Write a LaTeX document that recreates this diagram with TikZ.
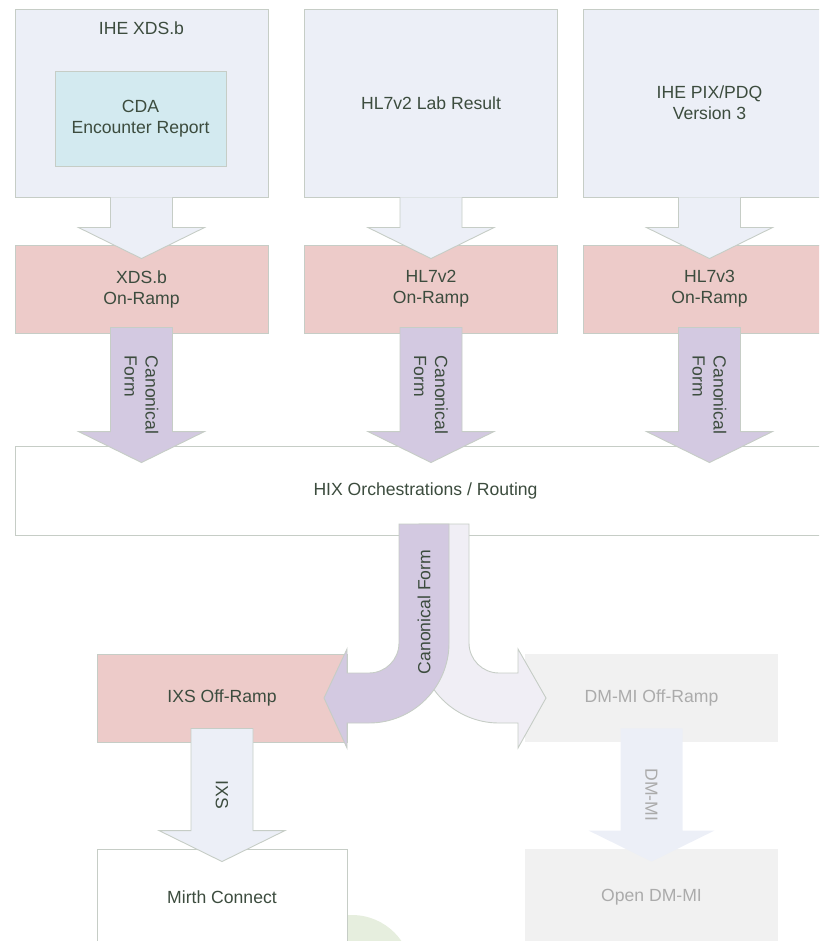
\documentclass[tikz,border=0pt]{standalone}
\usepackage{fontspec}
\setmainfont{Liberation Sans}
\usetikzlibrary{calc}

\definecolor{srcfill}{HTML}{ECEFF7}
\definecolor{cdafill}{HTML}{D3EAF0}
\definecolor{rampfill}{HTML}{EDCBC9}
\definecolor{canfill}{HTML}{D3C9E1}
\definecolor{splitfill}{HTML}{F0EEF5}
\definecolor{fadefill}{HTML}{F1F1F1}
\definecolor{boxline}{HTML}{C6CDC6}
\definecolor{txt}{HTML}{3C4C3E}
\definecolor{fadetxt}{HTML}{ABABAB}
\definecolor{logo}{HTML}{E6EEDE}

\tikzset{
 box/.style={draw=boxline, line width=0.9pt, text=txt, align=center,
  font=\fontsize{17.6}{21}\selectfont, inner sep=0pt},
 srcbox/.style={box, fill=srcfill, minimum width=253, minimum height=188},
 rampbox/.style={box, fill=rampfill, minimum width=253, minimum height=88},
 fadebox/.style={box, fill=fadefill, draw=none, text=fadetxt, minimum width=253},
 arrowlbl/.style={align=left, inner sep=0pt, font=\fontsize{17.6}{21}\selectfont},
 srcarrow/.style={fill=srcfill, draw=boxline, line width=0.9pt, text=txt},
 canarrow/.style={fill=canfill, draw=boxline, line width=0.9pt, text=txt},
 fadearrow/.style={fill=srcfill, text=fadetxt},
}

% style, from, to, inset, tip depth, top edge, label
\newcommand{\blockarrow}[7]{%
 \path[#1] let \p1=(#2.south), \p2=(#3.north) in
  ({\x1+31},{\y1+#4}) #6 ({\x1-31},{\y1+#4})
  -- ({\x1-31},{\y2-#5+31}) -- ({\x1-63},{\y2-#5+31})
  -- ({\x1},{\y2-#5}) -- ({\x1+63},{\y2-#5+31})
  -- ({\x1+31},{\y2-#5+31}) -- ({\x1+31},{\y1+#4})
  ({\x1},{(\y1+#4+\y2-#5)/2}) node[arrowlbl, rotate=-90] {#7};
}

\begin{document}
\begin{tikzpicture}[x=1pt, y=-1pt]
 \useasboundingbox (0,0) rectangle (819,941);
 \clip (0,0) rectangle (819,941);
 \fill[logo] (352,975) circle[radius=60pt]; % logo behind

 % sources
 \node[srcbox] (xds) at (141.5,103) {};
 \node[box, text=txt, draw=none] (xdslbl) at (141.5,28) {IHE XDS.b};
 \node[box, fill=cdafill, minimum width=171, minimum height=95] (cda) at (140.5,118.5) {CDA\\Encounter Report};
 \node[srcbox] (lab) at (431,103) {HL7v2 Lab Result};
 \node[srcbox] (pix) at (709.5,103) {IHE PIX/PDQ\\Version 3};

 % on-ramps
 \node[rampbox] (xdsramp) at (141.5,289) {XDS.b\\On-Ramp};
 \node[rampbox] (v2ramp) at (431,289) {HL7v2\\On-Ramp};
 \node[rampbox] (v3ramp) at (709.5,289) {HL7v3\\On-Ramp};

 \blockarrow{srcarrow}{xds}{xdsramp}{0}{14}{}{}
 \blockarrow{srcarrow}{lab}{v2ramp}{0}{14}{}{}
 \blockarrow{srcarrow}{pix}{v3ramp}{0}{14}{}{}

 % routing
 \node[box, fill=white, minimum width=821, minimum height=89] (hix) at (425.5,490.5) {HIX Orchestrations / Routing};

 \blockarrow{canarrow}{xdsramp}{hix}{6}{17}{--}{Canonical\\Form}
 \blockarrow{canarrow}{v2ramp}{hix}{6}{17}{--}{Canonical\\Form}
 \blockarrow{canarrow}{v3ramp}{hix}{6}{17}{--}{Canonical\\Form}

 % off-ramps
 \node[rampbox, minimum width=250] (ixs) at (222,698) {IXS Off-Ramp};
 \node[fadebox, minimum height=88] (dmmi) at (651.5,698) {DM-MI Off-Ramp};
 \node[box, fill=white, minimum width=250, minimum height=96] (mirth) at (222,897) {Mirth Connect};
 \node[fadebox, minimum height=96] (opendm) at (651.5,897) {Open DM-MI};

 % split
 \filldraw[fill=splitfill, draw=boxline, line width=0.9pt] (469,524) -- (469,643)
  arc[start angle=180, end angle=270, radius=30pt] -- (518,673) -- (518,649) -- (546,698)
  -- (518,748) -- (518,723) -- (499,723) arc[start angle=270, end angle=180, radius=80pt]
  -- (419,524) -- cycle;
 \filldraw[canarrow] (399,524) -- (399,643)
  arc[start angle=0, end angle=-90, radius=30pt] -- (347,673) -- (347,649) -- (324,698)
  -- (347,748) -- (347,723) -- (369,723) arc[start angle=-90, end angle=0, radius=80pt]
  -- (449,524) -- cycle;
 \node[arrowlbl, text=txt, rotate=90] (canlbl) at (424,612) {Canonical Form};

 \blockarrow{srcarrow}{ixs}{mirth}{14}{13}{--}{IXS}
 \blockarrow{fadearrow}{dmmi}{opendm}{14}{13}{--}{DM-MI}
\end{tikzpicture}
\end{document}
